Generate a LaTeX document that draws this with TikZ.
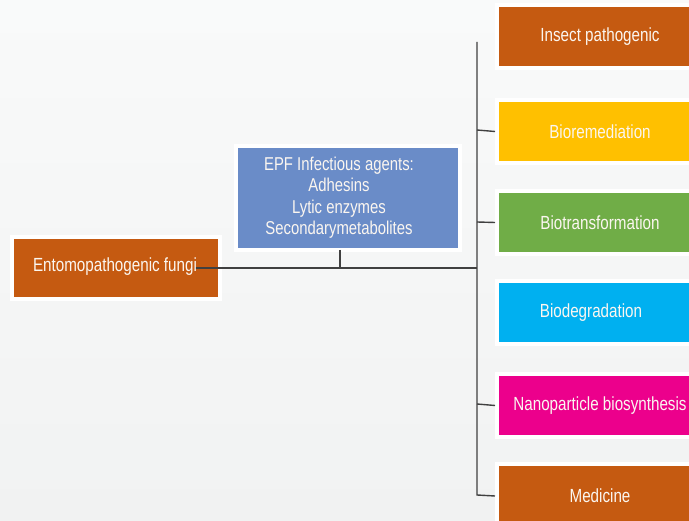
\documentclass[tikz,border=0pt]{standalone}
\usepackage{fontspec}
\setmainfont{Liberation Sans}[FakeStretch=0.80]
\definecolor{bgtop}{HTML}{F9FAFA}
\definecolor{bgbot}{HTML}{F1F2F2}
\definecolor{epforange}{HTML}{C55A11}
\definecolor{epfyellow}{HTML}{FFC000}
\definecolor{epfgreen}{HTML}{70AD47}
\definecolor{epfcyan}{HTML}{00B0F0}
\definecolor{epfmagenta}{HTML}{EC008C}
\definecolor{epfblue}{HTML}{6A8CC8}
\definecolor{txtwhite}{HTML}{FBF6F0}
\definecolor{linegray}{HTML}{404040}
\tikzset{
  box/.style={draw=white, line width=4pt, inner sep=0pt, text=txtwhite,
    font=\fontsize{19}{22}\selectfont},
  rbox/.style={box, minimum width=206pt, minimum height=63pt},
  txt/.style={inner sep=0pt, text=txtwhite, font=\fontsize{19}{22}\selectfont},
  conn/.style={draw=linegray, line width=1.4pt}
}
\begin{document}
\begin{tikzpicture}[x=1pt, y=-1pt]
\useasboundingbox (0,0) rectangle (689,521);
\clip (0,0) rectangle (689,521);
\shade[top color=bgtop, bottom color=bgbot] (0,0) rectangle (689,521);

% coordinates for connectors
\coordinate (ttop) at (477,42);
\coordinate (jbio) at (477,130);
\coordinate (jtrans) at (477,222);
\coordinate (jmain) at (477,268);
\coordinate (jnano) at (477,404);
\coordinate (jmed) at (477,495);
\coordinate (epfbot) at (340,250);
\coordinate (epfjoin) at (340,268);
\coordinate (hstart) at (195,268);

% boxes
\node[rbox, fill=epforange] (insect) at (600,37) {};
\node[rbox, fill=epfyellow] (biorem) at (600,131.5) {};
\node[rbox, fill=epfgreen] (biotrans) at (600,222.5) {};
\node[rbox, fill=epfcyan] (biodeg) at (600,312.5) {};
\node[rbox, fill=epfmagenta] (nano) at (600,405.5) {};
\node[rbox, fill=epforange] (medicine) at (600,496) {};
\node[box, fill=epfblue, minimum width=224pt, minimum height=104pt] (epf) at (348,198) {};
\node[box, fill=epforange, minimum width=208pt, minimum height=62pt] (fungi) at (116,268) {};

% connectors
\draw[conn] (ttop) -- (jmed) -- (medicine.west);
\draw[conn] (jbio) -- (biorem.west);
\draw[conn] (jtrans) -- (biotrans.west);
\draw[conn] (jnano) -- (nano.west);
\draw[conn] (epfbot) -- (epfjoin);
\draw[conn] (hstart) -- (jmain);

% texts
\node[txt] (tinsect) at (600,37) {Insect pathogenic};
\node[txt] (tbiorem) at (600,131.5) {Bioremediation};
\node[txt] (tbiotrans) at (600,222.5) {Biotransformation};
\node[txt] (tbiodeg) at (591,312.5) {Biodegradation};
\node[txt] (tnano) at (600,405.5) {Nanoparticle biosynthesis};
\node[txt] (tmed) at (600,496) {Medicine};
\node[txt] (tfungi) at (115,267) {Entomopathogenic fungi};
\node[txt, align=center, font=\fontsize{18.6}{21.5}\selectfont] (tepf) at (339,197.5)
  {EPF Infectious agents:\\Adhesins\\Lytic enzymes\\Secondarymetabolites};
\end{tikzpicture}
\end{document}
